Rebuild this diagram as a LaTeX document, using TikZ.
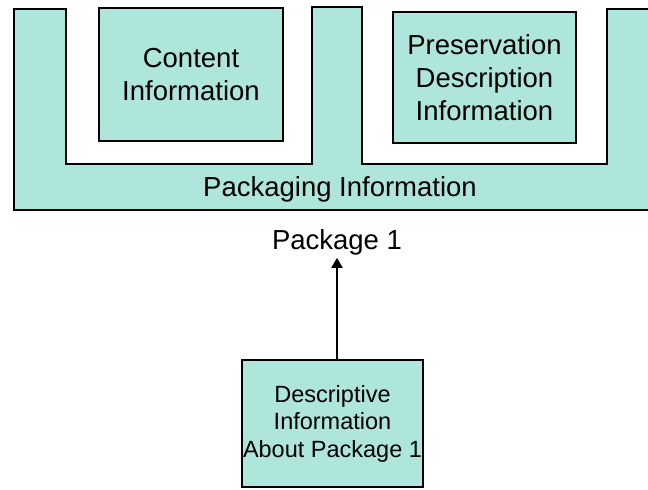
\documentclass[tikz,border=0pt]{standalone}
\usepackage{fontspec}
\setmainfont{Liberation Sans}
\usetikzlibrary{arrows.meta,positioning}
\definecolor{aqua}{RGB}{174,230,219}
\tikzset{>={Triangle[length=10pt,width=11pt]}}

\begin{document}
\begin{tikzpicture}[x=1pt,y=-1pt,line width=2pt,
    box/.style = {draw, fill=aqua, align=center, inner sep=0pt,
        font=\fontsize{27.5}{33}\selectfont},
    small/.style = {box, font=\fontsize{23.5}{27.5}\selectfont}]
\useasboundingbox (0,0) rectangle (648,490);
\clip (0,0) rectangle (648,490);
    % packaging outline, open at the top
    \draw[fill=aqua] (14,9) -- (66,9) -- (66,164) -- (312,164) -- (312,7)
        -- (362,7) -- (362,164) -- (607,164) -- (607,9) -- (660,9)
        -- (660,210) -- (14,210) -- cycle;
    \node[box, minimum width=184pt, minimum height=133pt] (content) at (191,74.5)
        {Content\\Information};
    \node[box, minimum width=183pt, minimum height=131pt] (pdi) at (484.5,77.5)
        {Preservation\\Description\\Information};
    \node[font=\fontsize{27.5}{33}\selectfont] (packing) at (340,189) {Packaging Information};
    \node[font=\fontsize{27.5}{33}\selectfont, inner sep=2pt] (pkgname) at (337,242) {Package 1};
    \node[small, minimum width=181pt, minimum height=127pt] (desc) at (332.5,423.5)
        {Descriptive\\Information\\About Package 1};
    \draw[->] (desc.north -| pkgname) -- (pkgname.south);
\end{tikzpicture}
\end{document}
